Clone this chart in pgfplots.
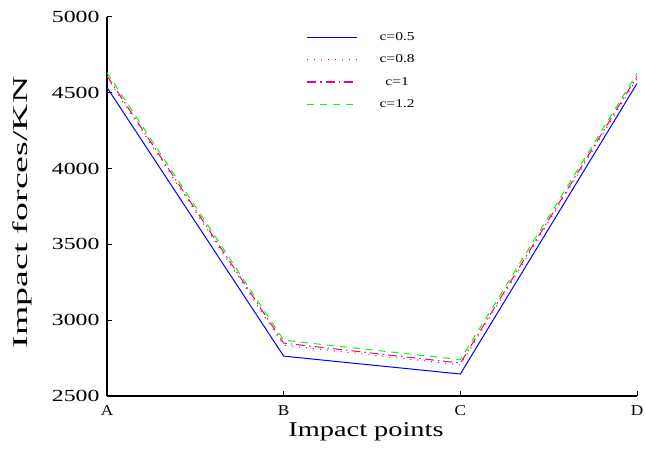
\documentclass[border=0pt]{standalone}
\usepackage{fontspec}
\setmainfont{Liberation Serif}
\newfontfamily\tickfont[FakeStretch=1.4]{Liberation Serif}
\newfontfamily\xtickfont[FakeStretch=1.15]{Liberation Serif}
\newfontfamily\ylabfont[FakeStretch=1.8]{Liberation Serif}
\newfontfamily\xlabfont[FakeStretch=1.35]{Liberation Serif}
\newfontfamily\legfont[FakeStretch=1.3]{Liberation Serif}
\usepackage{pgfplots}
\pgfplotsset{compat=1.18}
% legend sample: 50bp line, then a gap before the text
\pgfplotsset{legline/.style={legend image code/.code={%
  \draw[#1, line width=1.5bp] (0bp,0bp) -- (50bp,0bp); \path (70bp,0bp);}}}
\begin{document}
\begin{tikzpicture}
\begin{axis}[
  name=ax,
  scale only axis, width=530bp, height=379bp,
  xmin=0, xmax=3, ymin=2500, ymax=5000,
  axis lines=left, axis line style={-, line width=1.5bp},
  tick align=inside, major tick length=5bp,
  tick style={black, line width=1bp},
  xtick={0,1,2,3}, xticklabels={A,B,C,D},
  ytick={2500,3000,3500,4000,4500,5000},
  xticklabel style={font=\xtickfont\fontsize{15bp}{15bp}\selectfont, yshift=-6bp},
  yticklabel style={font=\tickfont\fontsize{17bp}{17bp}\selectfont, xshift=-4bp},
  /pgf/number format/assume math mode=true,
  /pgf/number format/1000 sep={},
  xlabel={Impact points}, ylabel={Impact forces/KN},
  xlabel style={font=\xlabfont\fontsize{21bp}{21bp}\selectfont, at={(axis description cs:0.5,0)}, anchor=center, yshift=-36bp, xshift=-6bp},
  ylabel style={font=\ylabfont\fontsize{21bp}{21bp}\selectfont, at={(axis description cs:0,0.5)}, anchor=center, yshift=85bp, xshift=-6bp},
  legend style={draw=white, fill=none, font=\legfont\fontsize{12bp}{12bp}\selectfont,
    at={(axis description cs:0.37,0.97)}, anchor=north west, row sep=9bp},
  legend cell align=center,
  every axis plot/.append style={line width=1bp},
]
\addplot[blue, legline={blue}] coordinates {(0,4535) (1,2763) (2,2645) (3,4561)};
\addlegendentry{c=0.5}
\addplot[red, dash pattern=on 1bp off 6bp, legline={red, dash pattern=on 1bp off 6bp}] coordinates {(0,4600) (1,2835) (2,2705) (3,4595)};
\addlegendentry{c=0.8}
\addplot[magenta, dash pattern=on 9bp off 4bp on 1.5bp off 4bp, legline={magenta, dash pattern=on 9bp off 4bp on 1.5bp off 4bp}] coordinates {(0,4612) (1,2849) (2,2717) (3,4608)};
\addlegendentry{c=1}
\addplot[green, dash pattern=on 7bp off 6bp, legline={green, dash pattern=on 7bp off 6bp}] coordinates {(0,4633) (1,2868) (2,2740) (3,4627)};
\addlegendentry{c=1.2}
\end{axis}
\pgfresetboundingbox
\path ([xshift=-107bp,yshift=-59bp]ax.south west) rectangle ([xshift=9bp,yshift=17bp]ax.north east);
\end{tikzpicture}
\end{document}
